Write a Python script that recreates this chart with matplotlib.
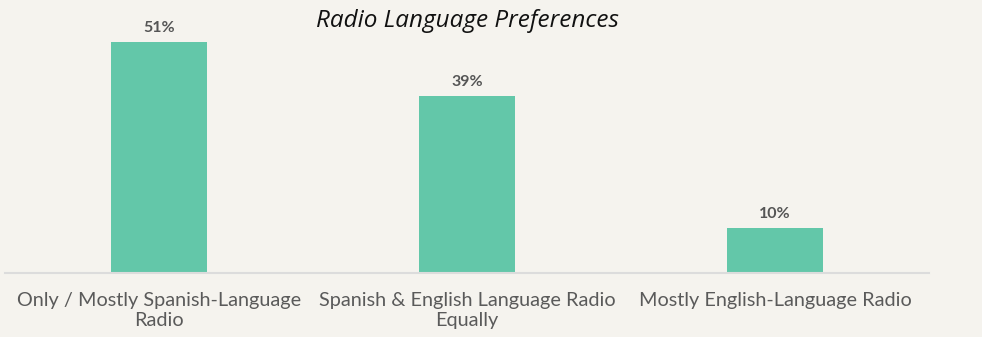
import matplotlib.pyplot as plt

# 数据
categories = ['Only / Mostly Spanish-Language\nRadio',
              'Spanish & English Language Radio\nEqually',
              'Mostly English-Language Radio']
shares = [51, 39, 10]
value_labels = ['51%', '39%', '10%']

bg = '#f5f3ee'
bar_color = '#63c7a9'
text_gray = '#5a5a5a'

fig = plt.figure(figsize=(9.82, 3.37), dpi=100, facecolor=bg)
ax = fig.add_axes([5 / 982, 64 / 337, 924 / 982, 273 / 337])
ax.set_facecolor(bg)

x = list(range(len(categories)))
bars = ax.bar(x, shares, width=0.31, color=bar_color, zorder=2)

# 柱子上方的百分比
for b, lab in zip(bars, value_labels):
    ax.annotate(lab, (b.get_x() + b.get_width() / 2, b.get_height()),
                xytext=(0, 5), textcoords='offset points',
                ha='center', va='bottom', fontsize=11.5, fontweight='bold',
                family='Lato', color='#555555')

ax.set_xlim(-0.5, 2.5)
ax.set_ylim(0, 60.3)
ax.set_xticks(x)
ax.set_xticklabels(categories, family='Lato', fontsize=14.3, color=text_gray,
                   linespacing=1.2)
ax.tick_params(axis='x', length=0, pad=14)
ax.set_yticks([])

for s in ['top', 'left', 'right']:
    ax.spines[s].set_visible(False)
ax.spines['bottom'].set_color('#dcdcdc')
ax.spines['bottom'].set_linewidth(1.5)

fig.text(467 / 982, 1 - 21 / 337, 'Radio Language Preferences',
         ha='center', va='center', fontsize=17.5, style='italic',
         family='Open Sans', color='#111111')

fig.savefig('out.png', dpi=100, facecolor=bg)
